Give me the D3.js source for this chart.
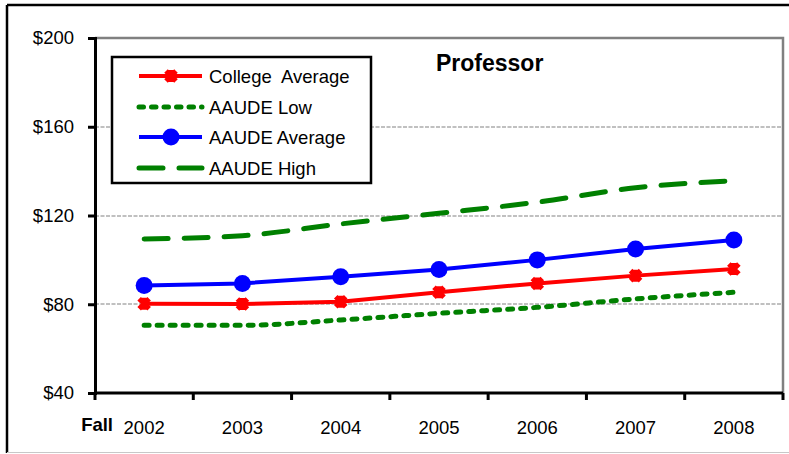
<!DOCTYPE html>
<html><head><meta charset="utf-8">
<script src="https://cdn.jsdelivr.net/npm/d3@7"></script>
<style>body{margin:0;background:#fff;} svg{display:block;font-family:Arial,"Liberation Sans",sans-serif;}</style>
</head><body>
<svg id="chart" width="789" height="454"></svg>
<script>
const years = ["2002","2003","2004","2005","2006","2007","2008"];
const collegeAverage = [80.2, 80.1, 81.1, 85.4, 89.4, 92.9, 95.9];
const aaudeLow = [70.5, 70.5, 72.9, 75.9, 78.6, 82.4, 85.4];
const aaudeAverage = [88.4, 89.4, 92.4, 95.7, 100.0, 104.9, 109.0];
const aaudeHigh = [109.4, 110.9, 116.2, 121.0, 126.0, 132.5, 135.7];
const yTicks = [40, 80, 120, 160, 200];
const chartTitle = "Professor";
const seriesNames = ["College  Average", "AAUDE Low", "AAUDE Average", "AAUDE High"];

const svg = d3.select("#chart");
const L = 95, R = 783, T = 38, B = 393;
const x = d3.scaleBand().domain(years).range([L, R]).padding(0);
const y = d3.scaleLinear().domain([40, 200]).range([B, T]);

// outer frame
svg.append("line").attr("x1",7).attr("x2",789).attr("y1",5).attr("y2",5).attr("stroke","#000").attr("stroke-width",2.5);
svg.append("line").attr("x1",7).attr("x2",7).attr("y1",5).attr("y2",453).attr("stroke","#000").attr("stroke-width",2.5);
svg.append("line").attr("x1",7).attr("x2",789).attr("y1",452.5).attr("y2",452.5).attr("stroke","#c8c8c8").attr("stroke-width",1);

// gridlines
svg.append("g").selectAll("line").data(yTicks.filter(d => d > 40 && d < 200)).join("line")
  .attr("x1", L).attr("x2", R).attr("y1", d => Math.round(y(d))).attr("y2", d => Math.round(y(d)))
  .attr("stroke", "#c0c0c0").attr("stroke-width", 2).attr("stroke-dasharray", "4,1.5");

// plot area top/right border (gray)
svg.append("path").attr("d", `M${L},${y(200)}H${R}V${B}`).attr("fill","none").attr("stroke","#808080").attr("stroke-width",2.5);

// axes
const yAxis = d3.axisLeft(y).tickValues(yTicks).tickSize(7).tickPadding(14).tickFormat(d => "$" + d);
const gy = svg.append("g").attr("transform", `translate(${L},0)`).call(yAxis);
gy.select(".domain").attr("stroke","#000").attr("stroke-width",3);
gy.selectAll(".tick line").attr("stroke","#000").attr("stroke-width",3);
gy.selectAll(".tick text").attr("font-size","18.5px").attr("fill","#000").attr("font-family","Arial, 'Liberation Sans', sans-serif");

const xAxis = d3.axisBottom(x).tickSize(0).tickPadding(0);
const gx = svg.append("g").attr("transform", `translate(0,${B})`).call(xAxis);
gx.select(".domain").attr("stroke","#000").attr("stroke-width",3).attr("d", `M${L},0H${R}`);
gx.selectAll(".tick text").attr("font-size","18.5px").attr("fill","#000").attr("dy",null).attr("y",41)
  .attr("font-family","Arial, 'Liberation Sans', sans-serif");
// category boundary ticks
const bounds = years.map(d => x(d)).concat([R]);
gx.append("g").selectAll("line").data(bounds).join("line")
  .attr("x1", d => d).attr("x2", d => d).attr("y1", 0).attr("y2", 7)
  .attr("stroke","#000").attr("stroke-width",3);

svg.append("text").attr("x",113).attr("y",431).attr("text-anchor","end")
  .attr("font-size","18.5px").attr("font-weight","bold").text("Fall");

// title
svg.append("text").attr("x",436).attr("y",71).attr("font-size","23px").attr("font-weight","bold").text(chartTitle);

const cx = d => x(d) + x.bandwidth()/2;
const line = d3.line().x(d => cx(d.year)).y(d => y(d.v)).curve(d3.curveMonotoneX);
const toPts = arr => years.map((yr,i) => ({year: yr, v: arr[i]}));

const starPath = "M-5,-5L5,5M5,-5L-5,5M0,-6L0,6";

// AAUDE Low
svg.append("path").datum(toPts(aaudeLow)).attr("d", line).attr("fill","none")
  .attr("stroke","#008000").attr("stroke-width",5).attr("stroke-linecap","round").attr("stroke-dasharray","5,8");
// AAUDE High
svg.append("path").datum(toPts(aaudeHigh)).attr("d", line).attr("fill","none")
  .attr("stroke","#008000").attr("stroke-width",5).attr("stroke-linecap","round").attr("stroke-dasharray","24,16");
// College Average
svg.append("path").datum(toPts(collegeAverage)).attr("d", d3.line().x(d => cx(d.year)).y(d => y(d.v))).attr("fill","none")
  .attr("stroke","#ff0000").attr("stroke-width",4);
svg.append("g").selectAll("path").data(toPts(collegeAverage)).join("path")
  .attr("transform", d => `translate(${cx(d.year)},${y(d.v)})`).attr("d", starPath)
  .attr("stroke","#ff0000").attr("stroke-width",5).attr("fill","none");
// AAUDE Average
svg.append("path").datum(toPts(aaudeAverage)).attr("d", d3.line().x(d => cx(d.year)).y(d => y(d.v))).attr("fill","none")
  .attr("stroke","#0000ff").attr("stroke-width",4);
svg.append("g").selectAll("circle").data(toPts(aaudeAverage)).join("circle")
  .attr("cx", d => cx(d.year)).attr("cy", d => y(d.v)).attr("r", 8.5).attr("fill","#0000ff");

// legend
const lg = svg.append("g");
lg.append("rect").attr("x",112).attr("y",57).attr("width",259).attr("height",126)
  .attr("fill","#fff").attr("stroke","#000").attr("stroke-width",2.5);
const rowsY = [76, 107, 137, 168];
const styles = [
  {c:"#ff0000", w:4, dash:null, cap:"butt", marker:"star"},
  {c:"#008000", w:5, dash:"4.5,8", cap:"round", marker:null},
  {c:"#0000ff", w:4, dash:null, cap:"butt", marker:"circle"},
  {c:"#008000", w:5, dash:"24,16", cap:"round", marker:null}
];
seriesNames.forEach((name, i) => {
  const s = styles[i], yy = rowsY[i];
  const ln = lg.append("line").attr("x1",139).attr("x2",202).attr("y1",yy).attr("y2",yy)
    .attr("stroke",s.c).attr("stroke-width",s.w).attr("stroke-linecap",s.cap);
  if (s.dash) ln.attr("stroke-dasharray", s.dash);
  if (s.marker === "star") lg.append("path").attr("transform",`translate(171,${yy})`).attr("d",starPath)
    .attr("stroke",s.c).attr("stroke-width",5).attr("fill","none");
  if (s.marker === "circle") lg.append("circle").attr("cx",171).attr("cy",yy).attr("r",8.5).attr("fill",s.c);
  lg.append("text").attr("x",209).attr("y",yy+7).attr("font-size","18.5px").attr("xml:space","preserve")
    .style("white-space","pre").text(name);
});
</script>
</body></html>
